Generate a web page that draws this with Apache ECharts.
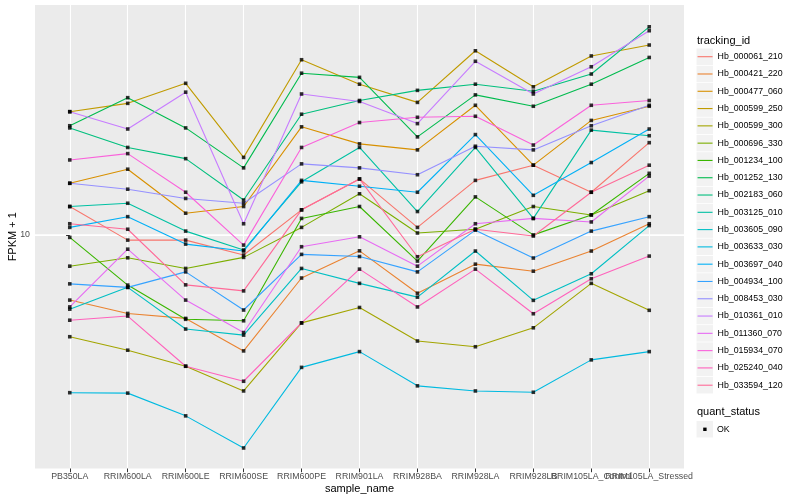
<!DOCTYPE html>
<html>
<head>
<meta charset="utf-8">
<script src="https://cdn.jsdelivr.net/npm/echarts@6/dist/echarts.min.js"></script>
<style>html,body{margin:0;padding:0;background:#fff;}#c{width:800px;height:500px;}</style>
</head>
<body>
<div id="c"></div>
<script>
const categories = ['PB350LA','RRIM600LA','RRIM600LE','RRIM600SE','RRIM600PE','RRIM901LA','RRIM928BA','RRIM928LA','RRIM928LB','RRIM105LA_Control','RRIM105LA_Stressed'];
const yTicks = [10];

const hb_000061_210 = [11.6, 9.73, 9.73, 9.00, 11.4, 13.4, 10.4, 13.3, 14.4, 12.5, 16.2];
const hb_000421_220 = [7.11, 6.63, 6.46, 5.45, 7.98, 9.20, 7.37, 8.58, 8.27, 9.19, 10.6];
const hb_000477_060 = [13.1, 14.1, 11.2, 11.6, 17.6, 16.1, 15.6, 19.7, 14.4, 18.2, 19.6];
const hb_000599_250 = [19.05, 19.9, 22.1, 15.0, 25.0, 22.0, 20.0, 26.2, 21.7, 25.5, 27.0];
const hb_000599_300 = [5.87, 5.47, 5.03, 4.42, 6.31, 6.84, 5.74, 5.57, 6.15, 7.76, 6.74];
const hb_000696_330 = [8.49, 8.87, 8.39, 8.89, 10.4, 12.4, 10.1, 10.3, 11.6, 11.1, 12.6];
const hb_001234_100 = [9.87, 7.69, 6.43, 6.38, 10.9, 11.6, 8.72, 12.2, 10.0, 11.1, 13.8];
const hb_001252_130 = [17.7, 20.5, 17.5, 14.2, 23.3, 22.8, 16.7, 20.8, 19.6, 22.0, 25.3];
const hb_002183_060 = [17.5, 15.8, 14.9, 12.0, 18.8, 20.2, 21.3, 22.0, 21.2, 23.2, 29.7];
const hb_003125_010 = [11.6, 11.8, 10.2, 9.24, 13.2, 15.8, 11.3, 15.8, 10.9, 17.3, 16.8];
const hb_003605_090 = [6.78, 7.60, 6.11, 5.92, 8.39, 7.76, 7.22, 9.19, 7.10, 8.16, 10.5];
const hb_003633_030 = [4.38, 4.37, 3.88, 3.28, 5.00, 5.43, 4.54, 4.42, 4.39, 5.20, 5.43];
const hb_003697_040 = [10.4, 11.0, 9.53, 9.19, 13.3, 12.9, 12.5, 16.9, 12.3, 14.6, 17.4];
const hb_004934_100 = [7.74, 7.60, 8.24, 6.75, 9.03, 8.93, 8.24, 10.25, 8.86, 10.2, 11.0];
const hb_008453_030 = [13.1, 12.7, 12.1, 11.8, 14.5, 14.2, 13.7, 15.9, 15.6, 17.7, 19.7];
const hb_010361_010 = [19.05, 17.4, 21.1, 10.6, 20.9, 20.1, 17.9, 24.8, 20.9, 24.1, 29.1];
const hb_011360_070 = [6.86, 9.28, 7.11, 6.00, 9.40, 9.90, 8.49, 10.6, 10.9, 10.7, 13.6];
const hb_015934_070 = [14.8, 15.3, 12.5, 9.48, 15.8, 18.0, 18.5, 18.6, 16.0, 19.7, 20.2];
const hb_025240_040 = [6.40, 6.54, 5.03, 4.65, 6.31, 8.36, 6.86, 8.36, 6.62, 7.95, 8.95];
const hb_033594_120 = [10.6, 10.3, 7.70, 7.46, 11.4, 13.4, 8.92, 10.3, 9.94, 12.5, 14.4];

const seriesNames = ['Hb_000061_210','Hb_000421_220','Hb_000477_060','Hb_000599_250','Hb_000599_300','Hb_000696_330','Hb_001234_100','Hb_001252_130','Hb_002183_060','Hb_003125_010','Hb_003605_090','Hb_003633_030','Hb_003697_040','Hb_004934_100','Hb_008453_030','Hb_010361_010','Hb_011360_070','Hb_015934_070','Hb_025240_040','Hb_033594_120'];
const seriesValues = [hb_000061_210,hb_000421_220,hb_000477_060,hb_000599_250,hb_000599_300,hb_000696_330,hb_001234_100,hb_001252_130,hb_002183_060,hb_003125_010,hb_003605_090,hb_003633_030,hb_003697_040,hb_004934_100,hb_008453_030,hb_010361_010,hb_011360_070,hb_015934_070,hb_025240_040,hb_033594_120];
const palette = ['#F8766D','#EA8331','#D89000','#C09B00','#A3A500','#7CAE00','#39B600','#00BB4E','#00BF7D','#00C1A3','#00BFC4','#00BAE0','#00B0F6','#35A2FF','#9590FF','#C77CFF','#E76BF3','#FA62DB','#FF62BC','#FF6A98'];

const FONT = 'Liberation Sans, Arial, sans-serif';
const catIdx = categories.map((c, i) => i);
const evenIdx = catIdx.filter(i => i % 2 === 0);
const oddIdx = catIdx.filter(i => i % 2 === 1);

const lineSeries = seriesNames.map((name, k) => ({
  name: name,
  type: 'line',
  data: seriesValues[k].map((v, i) => [i, v]),
  symbol: 'none',
  lineStyle: { color: palette[k], width: 1.1 },
  itemStyle: { color: palette[k] },
  silent: true,
  z: 2
}));

const pointData = [];
seriesValues.forEach(arr => arr.forEach((v, i) => pointData.push([i, v])));

const PANEL = { left: 35, top: 5, right: 684, bottom: 468.5 };
const firstCenter = 56.7, legendStep = 17.29;
const keyBoxes = seriesNames.map((n, k) => ({
  type: 'rect', left: 696.5, top: firstCenter - 8.25 + k * legendStep, z: -1,
  shape: { width: 16.5, height: 16.5 }, style: { fill: '#F2F2F2' }
}));
const staticGraphic = [
  { type: 'rect', left: PANEL.left, top: PANEL.top, z: -100, silent: true, shape: { width: PANEL.right - PANEL.left, height: PANEL.bottom - PANEL.top }, style: { fill: '#EBEBEB' } }
].concat(keyBoxes).concat([
  { type: 'text', left: 697, top: 35, style: { text: 'tracking_id', font: '11px ' + FONT, fill: '#000' } },
  { type: 'text', left: 697, top: 406, style: { text: 'quant_status', font: '11px ' + FONT, fill: '#000' } },
  { type: 'rect', left: 696.5, top: 421, z: -1, shape: { width: 16.5, height: 16.5 }, style: { fill: '#F2F2F2' } },
  { type: 'rect', left: 703.2, top: 427.6, shape: { width: 3.4, height: 3.4 }, style: { fill: '#000' } },
  { type: 'text', left: 717, top: 425, style: { text: 'OK', font: '8.8px ' + FONT, fill: '#000' } }
]);

const xLabelStyle = { fontFamily: FONT, fontSize: 8.8, color: '#4D4D4D', margin: 4, hideOverlap: false, showMinLabel: true, showMaxLabel: true };

const chart = echarts.init(document.getElementById('c'), null, { renderer: 'canvas' });
chart.setOption({
  animation: false,
  color: palette,
  grid: { left: PANEL.left, right: 800 - PANEL.right, top: PANEL.top, bottom: 500 - PANEL.bottom, show: false, containLabel: false, outerBoundsMode: 'none' },
  xAxis: [{
    type: 'value', min: -0.6, max: 10.6, position: 'bottom',
    name: 'sample_name', nameLocation: 'middle', nameGap: 15, nameMoveOverlap: false,
    nameTextStyle: { fontFamily: FONT, fontSize: 11, color: '#000' },
    axisLine: { show: false },
    axisTick: { show: true, length: 3.7, customValues: catIdx, lineStyle: { color: '#333333', width: 1 } },
    axisLabel: Object.assign({ customValues: evenIdx, formatter: v => categories[Math.round(v)] }, xLabelStyle),
    splitLine: { show: true, lineStyle: { color: '#FFFFFF', width: 1.1 } }
  }, {
    type: 'value', min: -0.6, max: 10.6, position: 'bottom', offset: 0,
    axisLine: { show: false },
    axisTick: { show: false },
    axisLabel: Object.assign({ customValues: oddIdx, formatter: v => categories[Math.round(v)] }, xLabelStyle),
    splitLine: { show: false }
  }],
  yAxis: {
    type: 'log', logBase: 10, min: 2.946, max: 33.29,
    name: 'FPKM + 1', nameLocation: 'middle', nameGap: 17, nameRotate: 90, nameMoveOverlap: false,
    nameTextStyle: { fontFamily: FONT, fontSize: 11, color: '#000' },
    axisLine: { show: false },
    axisTick: { show: true, length: 3.7, customValues: yTicks, lineStyle: { color: '#333333', width: 1 } },
    axisLabel: { customValues: yTicks, fontFamily: FONT, fontSize: 8.8, color: '#4D4D4D', margin: 5 },
    splitLine: { show: true, lineStyle: { color: '#FFFFFF', width: 1.1 } }
  },
  legend: {
    data: seriesNames, orient: 'vertical', left: 697, top: firstCenter - 6.8, padding: 0,
    itemWidth: 15, itemHeight: 17, itemGap: legendStep - 13.6,
    itemStyle: { opacity: 0 }, lineStyle: { width: 1.1 },
    textStyle: { fontFamily: FONT, fontSize: 8.8, color: '#000' },
    selectedMode: false
  },
  series: lineSeries.concat([{
    name: 'OK', type: 'scatter', data: pointData, symbol: 'rect', symbolSize: 3.6,
    itemStyle: { color: '#000' }, silent: true, z: 5
  }])
});

// horizontal major gridlines placed through the y axis scale
const yGridLines = yTicks.map(v => {
  const py = chart.convertToPixel({ yAxisIndex: 0 }, v);
  return { type: 'line', z: -50, silent: true,
    shape: { x1: PANEL.left, y1: py, x2: PANEL.right, y2: py },
    style: { stroke: '#FFFFFF', lineWidth: 1.1 } };
});
chart.setOption({ graphic: staticGraphic.concat(yGridLines) });
</script>
</body>
</html>
